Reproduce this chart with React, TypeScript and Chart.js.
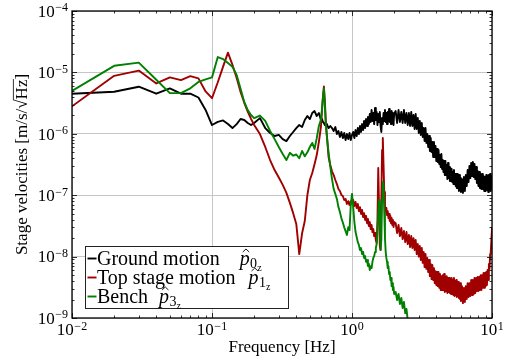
import React, { useEffect, useRef } from "react";
import { Chart, registerables } from "chart.js";

Chart.register(...registerables);

// ---------------- data ----------------
const frequencies = [
  0.01, 0.02, 0.03, 0.04, 0.05, 0.06, 0.07, 0.08, 0.09, 0.1,
  0.11, 0.12, 0.13, 0.14, 0.15, 0.16, 0.17, 0.18, 0.19, 0.2,
  0.22, 0.24, 0.26, 0.28, 0.3, 0.32, 0.34, 0.36, 0.38, 0.4,
  0.42, 0.44, 0.46, 0.48, 0.5, 0.52, 0.54, 0.56,
  0.58, 0.6, 0.61, 0.62, 0.63, 0.64, 0.65, 0.66, 0.68, 0.7,
  0.72, 0.74, 0.76, 0.78, 0.8, 0.82, 0.84, 0.86, 0.88, 0.9, 0.92, 0.94, 0.96, 0.98, 1.0,
  1.02, 1.04, 1.06, 1.08, 1.1, 1.12, 1.14, 1.16, 1.18, 1.2,
  1.22, 1.24, 1.26, 1.28, 1.3, 1.32, 1.34, 1.36, 1.38, 1.4,
  1.42, 1.44, 1.46, 1.48, 1.5, 1.52, 1.54, 1.56, 1.58, 1.6,
  1.62, 1.64, 1.66, 1.68, 1.7, 1.72, 1.74, 1.76, 1.78, 1.8,
  1.82, 1.84, 1.86, 1.88, 1.9, 1.92, 1.94, 1.96, 1.98, 2.0,
  2.05, 2.1, 2.15, 2.2, 2.25, 2.3, 2.35, 2.4, 2.45, 2.5,
  2.55, 2.6, 2.65, 2.7, 2.75, 2.8, 2.85, 2.9, 2.95, 3.0,
  3.05, 3.1, 3.15, 3.2, 3.25, 3.3, 3.35, 3.4, 3.45, 3.5,
  3.55, 3.6, 3.65, 3.7, 3.75, 3.8, 3.85, 3.9, 3.95, 4.0,
  4.05, 4.1, 4.15, 4.2, 4.25, 4.3, 4.35, 4.4, 4.45, 4.5,
  4.55, 4.6, 4.65, 4.7, 4.75, 4.8, 4.85, 4.9, 4.95, 5.0,
  5.05, 5.1, 5.15, 5.2, 5.25, 5.3, 5.35, 5.4, 5.45, 5.5,
  5.55, 5.6, 5.65, 5.7, 5.75, 5.8, 5.85, 5.9, 5.95, 6.0,
  6.1, 6.2, 6.3, 6.4, 6.5, 6.6, 6.7, 6.8, 6.9, 7.0,
  7.1, 7.2, 7.3, 7.4, 7.5, 7.6, 7.7, 7.8, 7.9, 8.0,
  8.1, 8.2, 8.3, 8.4, 8.5, 8.6, 8.7, 8.8, 8.9, 9.0,
  9.1, 9.2, 9.3, 9.4, 9.5, 9.6, 9.7, 9.8, 9.9, 10.0,
];

const groundMotion = [
  4.5e-6, 4.85e-6, 5.85e-6, 4.5e-6, 5.5e-6, 4.5e-6, 4.5e-6, 3.9e-6, 2.45e-6, 1.39e-6,
  1.56e-6, 1.65e-6, 1.44e-6, 1.24e-6, 1.44e-6, 1.74e-6, 1.68e-6, 1.5e-6, 1.39e-6, 1.5e-6,
  1.8e-6, 1.24e-6, 1.03e-6, 9.2e-7, 9.6e-7, 8.2e-7, 7.6e-7, 9.2e-7, 1.07e-6, 1.24e-6,
  1.39e-6, 1.29e-6, 1.68e-6, 1.95e-6, 1.74e-6, 2.18e-6, 2.35e-6, 1.95e-6,
  2.18e-6, 1.68e-6, 1.75e-6, 1.56e-6, 1.5e-6, 1.39e-6, 1.5e-6, 1.45e-6, 1.24e-6, 1.34e-6,
  1.24e-6, 1.11e-6, 1.29e-6, 9.9e-7, 1.11e-6, 8.9e-7, 1.07e-6, 8.5e-7, 1.03e-6, 7.9e-7, 9.9e-7, 8.2e-7, 1.03e-6, 7.9e-7, 9.6e-7,
  1.07e-6, 8.5e-7, 1.15e-6, 9.2e-7, 1.24e-6, 9.9e-7, 1.34e-6, 1.07e-6, 1.44e-6, 1.15e-6,
  1.62e-6, 1.24e-6, 1.74e-6, 1.34e-6, 1.88e-6, 1.44e-6, 2.1e-6, 1.56e-6, 2.44e-6, 1.62e-6,
  2.18e-6, 1.44e-6, 2.63e-6, 1.68e-6, 2.27e-6, 1.39e-6, 2.1e-6, 1.56e-6, 2.27e-6, 1.34e-6,
  1.07e-6, 1.81e-6, 1.44e-6, 2.18e-6, 1.62e-6, 2.44e-6, 1.56e-6, 2.18e-6, 1.44e-6, 2.27e-6,
  1.62e-6, 2.54e-6, 1.56e-6, 2.1e-6, 1.44e-6, 2.35e-6, 1.68e-6, 2.18e-6, 1.39e-6, 2.1e-6,
  2.35e-6, 1.5e-6, 2.44e-6, 1.56e-6, 2.27e-6, 1.5e-6, 2.44e-6, 1.5e-6, 2.18e-6, 1.39e-6,
  2.18e-6, 1.34e-6, 2.27e-6, 1.34e-6, 2.02e-6, 1.2e-6, 2.1e-6, 1.2e-6, 1.81e-6, 1.03e-6,
  1.62e-6, 9.56e-7, 1.5e-6, 8.87e-7, 1.24e-6, 7.63e-7, 1.24e-6, 7.08e-7, 9.93e-7, 6.1e-7,
  9.21e-7, 5.25e-7, 8.54e-7, 5.06e-7, 7.35e-7, 4.19e-7, 7.35e-7, 4.19e-7, 6.33e-7, 3.61e-7,
  5.66e-7, 3.47e-7, 5.45e-7, 3.22e-7, 4.52e-7, 2.88e-7, 4.69e-7, 2.67e-7, 3.74e-7, 2.39e-7,
  3.61e-7, 2.13e-7, 3.61e-7, 2.13e-7, 3.1e-7, 1.83e-7, 3.35e-7, 1.9e-7, 2.88e-7, 1.7e-7,
  2.77e-7, 1.7e-7, 2.67e-7, 1.64e-7, 2.39e-7, 1.52e-7, 2.57e-7, 1.52e-7, 2.21e-7, 1.41e-7,
  2.21e-7, 1.31e-7, 2.21e-7, 1.31e-7, 1.98e-7, 1.17e-7, 2.13e-7, 1.22e-7, 1.9e-7, 1.13e-7,
  1.83e-7, 1.09e-7, 1.98e-7, 1.17e-7, 2.13e-7, 1.41e-7, 2.57e-7, 1.64e-7, 2.99e-7, 1.9e-7,
  3.35e-7, 2.05e-7, 3.47e-7, 1.98e-7, 3.22e-7, 1.83e-7, 2.88e-7, 1.58e-7, 2.48e-7, 1.41e-7,
  2.39e-7, 1.31e-7, 2.21e-7, 1.26e-7, 2.21e-7, 1.26e-7, 2.05e-7, 1.17e-7, 1.98e-7, 1.17e-7,
  2.13e-7, 1.22e-7, 2.05e-7, 1.13e-7, 2.13e-7, 1.22e-7, 2.21e-7, 1.17e-7, 2.05e-7, 1.26e-7,
];

const topStageMotion = [
  2.8e-6, 8.8e-6, 1.07e-5, 6.6e-6, 8.3e-6, 7.5e-6, 8.7e-6, 8.0e-6, 4.9e-6, 3.8e-6,
  6.9e-6, 1.24e-5, 2.1e-5, 1.33e-5, 8.1e-6, 4.8e-6, 3.2e-6, 2.3e-6, 1.75e-6, 1.39e-6,
  9.9e-7, 6.1e-7, 3.74e-7, 2.57e-7, 1.94e-7, 1.47e-7, 1.09e-7, 7.5e-8, 5.1e-8, 3.4e-8,
  1.1e-8, 2.4e-8, 3.8e-8, 1.0e-7, 1.77e-7, 2.3e-7, 3.2e-7, 4.5e-7,
  7.4e-7, 1.3e-6, 2.3e-6, 4.0e-6, 5.9e-6, 3.4e-6, 1.6e-6, 1.0e-6, 4.2e-7, 3.1e-7,
  2.45e-7, 2.13e-7, 1.77e-7, 1.52e-7, 1.26e-7, 1.17e-7, 1.01e-7, 9.7e-8, 8.35e-8, 8.7e-8, 7.2e-8, 8.0e-8, 6.9e-8, 8.0e-8, 7.2e-8,
  8.35e-8, 6.65e-8, 7.75e-8, 6.2e-8, 7.2e-8, 5.5e-8, 6.4e-8, 4.95e-8, 5.75e-8, 4.4e-8,
  5.1e-8, 3.95e-8, 4.6e-8, 3.5e-8, 4.1e-8, 3.15e-8, 3.65e-8, 2.81e-8, 3.27e-8, 2.51e-8,
  2.81e-8, 2.16e-8, 2.42e-8, 1.86e-8, 1.66e-8, 3.95e-8, 2.77e-7, 6.9e-8, 1.49e-8, 1.28e-8,
  8.35e-8, 5.45e-7, 8.54e-7, 3.1e-7, 1.13e-7, 6.9e-8, 5.3e-8, 6.2e-8, 4.75e-8, 5.5e-8,
  4.25e-8, 4.95e-8, 3.8e-8, 4.6e-8, 3.5e-8, 4.25e-8, 3.27e-8, 3.95e-8, 3.03e-8, 3.65e-8,
  3.5e-8, 2.42e-8, 3.27e-8, 2.16e-8, 2.92e-8, 1.93e-8, 2.61e-8, 1.72e-8, 2.51e-8, 1.6e-8,
  2.25e-8, 1.43e-8, 2.16e-8, 1.38e-8, 2.0e-8, 1.28e-8, 1.86e-8, 1.1e-8, 1.6e-8, 1.0e-8,
  1.49e-8, 8.8e-9, 1.38e-8, 7.9e-9, 1.19e-8, 6.75e-9, 1.1e-8, 6.3e-9, 9.5e-9, 5.6e-9,
  8.8e-9, 4.8e-9, 7.6e-9, 4.3e-9, 7.3e-9, 4.16e-9, 6.5e-9, 3.7e-9, 5.8e-9, 3.45e-9,
  5.6e-9, 3.3e-9, 5.6e-9, 3.1e-9, 5.2e-9, 2.86e-9, 4.8e-9, 2.86e-9, 5.0e-9, 2.86e-9,
  5.2e-9, 2.65e-9, 4.65e-9, 2.75e-9, 4.8e-9, 2.55e-9, 4.5e-9, 2.65e-9, 4.5e-9, 2.55e-9,
  4.16e-9, 2.46e-9, 4.5e-9, 2.46e-9, 4.16e-9, 2.37e-9, 4.5e-9, 2.28e-9, 4.0e-9, 2.37e-9,
  4.16e-9, 2.2e-9, 3.85e-9, 2.28e-9, 3.85e-9, 2.12e-9, 3.6e-9, 2.04e-9, 3.7e-9, 1.89e-9,
  3.3e-9, 1.75e-9, 3.1e-9, 1.82e-9, 3.3e-9, 2.04e-9, 3.7e-9, 2.2e-9, 3.7e-9, 2.28e-9,
  4.16e-9, 2.37e-9, 4.16e-9, 2.46e-9, 4.5e-9, 2.55e-9, 4.5e-9, 2.75e-9, 4.65e-9, 2.75e-9,
  4.65e-9, 2.86e-9, 5.0e-9, 2.86e-9, 5.0e-9, 3.1e-9, 5.4e-9, 3.1e-9, 5.4e-9, 3.3e-9,
  5.6e-9, 3.45e-9, 6.05e-9, 4.16e-9, 7.6e-9, 6.3e-9, 1.1e-8, 1.19e-8, 1.86e-8, 2.92e-8,
];

const benchMotion = [
  5.0e-6, 1.28e-5, 1.44e-5, 7.6e-6, 4.6e-6, 4.6e-6, 5.5e-6, 7.0e-6, 7.7e-6, 8.3e-6,
  1.78e-5, 1.65e-5, 1.42e-5, 1.23e-5, 9.1e-6, 5.4e-6, 3.3e-6, 2.44e-6, 2.02e-6, 1.8e-6,
  1.98e-6, 1.62e-6, 1.11e-6, 8.2e-7, 6.1e-7, 4.7e-7, 3.74e-7, 4.9e-7, 4.4e-7, 4.6e-7,
  4.0e-7, 5.25e-7, 4.3e-7, 5.0e-7, 6.1e-7, 7.1e-7, 5.66e-7, 8.5e-7,
  1.34e-6, 1.7e-6, 2.5e-6, 3.9e-6, 5.5e-6, 2.9e-6, 1.4e-6, 9.5e-7, 5.0e-7, 2.9e-7,
  1.83e-7, 1.26e-7, 1.05e-7, 8.7e-8, 6.4e-8, 5.3e-8, 4.2e-8, 3.6e-8, 3.0e-8, 2.6e-8, 2.25e-8, 3.0e-8, 2.7e-8, 6.9e-8, 1.05e-7,
  6.4e-8, 3.65e-8, 2.51e-8, 2.08e-8, 1.72e-8, 1.55e-8, 1.28e-8, 1.38e-8, 1.1e-8, 1.19e-8,
  9.5e-9, 1.02e-8, 8.2e-9, 8.8e-9, 7.0e-9, 7.6e-9, 6.05e-9, 7.0e-9, 6.5e-9, 8.2e-9,
  9.5e-9, 1.02e-8, 1.19e-8, 1.38e-8, 1.6e-8, 2.51e-8, 5.3e-8, 8.35e-8, 4.75e-8, 1.28e-8,
  1.86e-8, 8.35e-8, 1.64e-7, 1.47e-7, 5.3e-8, 2.0e-8, 1.19e-8, 9.5e-9, 8.2e-9, 6.5e-9,
  7.0e-9, 5.2e-9, 5.6e-9, 4.16e-9, 4.5e-9, 3.3e-9, 3.7e-9, 2.86e-9, 3.2e-9, 2.46e-9,
  2.65e-9, 1.96e-9, 2.46e-9, 1.69e-9, 2.12e-9, 1.45e-9, 1.82e-9, 1.2e-9, 1.4e-9, 9.3e-10,
];

const seriesNames = ["Ground motion", "Top stage motion", "Bench"];
const seriesSubscripts = ["0", "1", "3"];
const seriesColors = ["#000000", "#a00000", "#008000"];

const xTickValues = [0.01, 0.1, 1, 10];
const xTickLabels = [["10", "\u22122"], ["10", "\u22121"], ["10", "0"], ["10", "1"]];
const yTickValues = [1e-9, 1e-8, 1e-7, 1e-6, 1e-5, 1e-4];
const yTickLabels = [
  ["10", "\u22129"], ["10", "\u22128"], ["10", "\u22127"],
  ["10", "\u22126"], ["10", "\u22125"], ["10", "\u22124"],
];
const xTitle = "Frequency [Hz]";
const yTitleParts = ["Stage velocities [m/s/\u221A", "Hz", "]"];

// ---------------- styling ----------------
const SERIF = "'Liberation Serif', 'Times New Roman', serif";
const legendGaps = [20, 13, 11];

const decorPlugin = {
  id: "decor",
  afterDatasetsDraw(chart: any) {
    const { ctx, chartArea: a } = chart;
    const xs = chart.scales.x;
    const ys = chart.scales.y;
    ctx.save();

    // minor / major inward ticks
    ctx.strokeStyle = "#000";
    ctx.lineWidth = 0.8;
    ctx.beginPath();
    for (let i = 0; i < xTickValues.length; i++) {
      for (let k = 1; k <= 9; k++) {
        if (i === xTickValues.length - 1 && k > 1) break;
        const px = Math.round(xs.getPixelForValue(k * xTickValues[i])) + 0.5;
        const len = k === 1 ? 5 : 2.5;
        ctx.moveTo(px, a.bottom);
        ctx.lineTo(px, a.bottom - len);
        ctx.moveTo(px, a.top);
        ctx.lineTo(px, a.top + len);
      }
    }
    for (let i = 0; i < yTickValues.length; i++) {
      for (let k = 1; k <= 9; k++) {
        if (i === yTickValues.length - 1 && k > 1) break;
        const py = Math.round(ys.getPixelForValue(k * yTickValues[i])) + 0.5;
        const len = k === 1 ? 5 : 2.5;
        ctx.moveTo(a.left, py);
        ctx.lineTo(a.left + len, py);
        ctx.moveTo(a.right, py);
        ctx.lineTo(a.right - len, py);
      }
    }
    ctx.stroke();

    // frame
    ctx.lineWidth = 1.3;
    ctx.strokeRect(a.left, a.top, a.right - a.left, a.bottom - a.top);

    // tick labels
    ctx.fillStyle = "#000";
    ctx.textBaseline = "alphabetic";
    ctx.textAlign = "left";
    const mainFont = `17px ${SERIF}`;
    const supFont = `12px ${SERIF}`;
    xTickValues.forEach((v, i) => {
      const [base, exp] = xTickLabels[i];
      ctx.font = mainFont;
      const bw = ctx.measureText(base).width;
      ctx.font = supFont;
      const ew = ctx.measureText(exp).width;
      const total = bw + 0.5 + ew;
      const x0 = xs.getPixelForValue(v) - total / 2;
      ctx.font = mainFont;
      ctx.fillText(base, x0, a.bottom + 17);
      ctx.font = supFont;
      ctx.fillText(exp, x0 + bw + 0.5, a.bottom + 11.5);
    });
    yTickValues.forEach((v, i) => {
      const [base, exp] = yTickLabels[i];
      ctx.font = mainFont;
      const bw = ctx.measureText(base).width;
      ctx.font = supFont;
      const ew = ctx.measureText(exp).width;
      const py = ys.getPixelForValue(v);
      const ex = a.left - 4 - ew;
      const bx = ex - 0.5 - bw;
      ctx.font = mainFont;
      ctx.fillText(base, bx, py + 5.7);
      ctx.font = supFont;
      ctx.fillText(exp, ex, py + 0.3);
    });

    // axis titles
    ctx.font = `17px ${SERIF}`;
    ctx.textAlign = "center";
    ctx.fillText(xTitle, (a.left + a.right) / 2, a.bottom + 34);

    ctx.save();
    ctx.translate(27, (a.top + a.bottom) / 2);
    ctx.rotate(-Math.PI / 2);
    ctx.textAlign = "left";
    ctx.font = `17px ${SERIF}`;
    const [t1, t2, t3] = yTitleParts;
    const w1 = ctx.measureText(t1).width;
    const w2 = ctx.measureText(t2).width;
    const w3 = ctx.measureText(t3).width;
    const rootTop = ctx.measureText("\u221A").actualBoundingBoxAscent;
    let tx = -(w1 + w2 + w3) / 2;
    ctx.fillText(t1, tx, 0);
    tx += w1;
    ctx.fillText(t2, tx, 0);
    ctx.beginPath();
    ctx.lineWidth = 0.8;
    ctx.moveTo(tx - 0.8, -rootTop + 0.4);
    ctx.lineTo(tx + w2 + 0.5, -rootTop + 0.4);
    ctx.stroke();
    tx += w2;
    ctx.fillText(t3, tx, 0);
    ctx.restore();

    // legend
    const bx = a.left + 13;
    const by = a.bottom - 72;
    const bw = 203;
    const bh = 62;
    ctx.fillStyle = "#fff";
    ctx.fillRect(bx, by, bw, bh);
    ctx.strokeStyle = "#222";
    ctx.lineWidth = 1;
    ctx.strokeRect(bx + 0.5, by + 0.5, bw, bh);
    ctx.textAlign = "left";
    seriesNames.forEach((name, i) => {
      const base = by + 18.5 + i * 19;
      ctx.strokeStyle = seriesColors[i];
      ctx.lineWidth = 1.9;
      ctx.beginPath();
      ctx.moveTo(bx + 2.5, base - 6);
      ctx.lineTo(bx + 11.5, base - 6);
      ctx.stroke();
      ctx.fillStyle = "#000";
      ctx.font = `20px ${SERIF}`;
      const tx0 = bx + 12;
      ctx.fillText(name, tx0, base);
      const pw0 = ctx.measureText(name).width;
      const px = tx0 + pw0 + legendGaps[i];
      ctx.font = `italic 20px ${SERIF}`;
      ctx.fillText("p", px, base);
      const pw = ctx.measureText("p").width;
      // hat accent
      ctx.strokeStyle = "#000";
      ctx.lineWidth = 0.9;
      ctx.beginPath();
      const hc = px + pw * 0.62;
      ctx.moveTo(hc - 3.2, base - 12.5);
      ctx.lineTo(hc, base - 15.5);
      ctx.lineTo(hc + 3.2, base - 12.5);
      ctx.stroke();
      ctx.font = `14px ${SERIF}`;
      const sx = px + pw + 0.3;
      ctx.fillText(seriesSubscripts[i], sx, base + 3.5);
      const sw = ctx.measureText(seriesSubscripts[i]).width;
      ctx.font = `10px ${SERIF}`;
      ctx.fillText("z", sx + sw + 0.2, base + 6.5);
    });

    ctx.restore();
  },
};

const toPoints = (vals: number[]) => vals.map((v, i) => ({ x: frequencies[i], y: v }));

export default function App() {
  const ref = useRef<HTMLCanvasElement | null>(null);

  useEffect(() => {
    if (!ref.current) return;
    const seriesValues = [groundMotion, topStageMotion, benchMotion];
    const chart = new Chart(ref.current, {
      type: "line",
      data: {
        datasets: seriesValues.map((vals, i) => ({
          label: seriesNames[i],
          data: toPoints(vals),
          borderColor: seriesColors[i],
          backgroundColor: seriesColors[i],
          borderWidth: 1.9,
          pointRadius: 0,
          tension: 0,
          fill: false,
          borderJoinStyle: "round" as const,
          borderCapStyle: "round" as const,
          order: 3 - i,
        })),
      },
      options: {
        responsive: false,
        animation: false,
        devicePixelRatio: 1,
        layout: { padding: { left: 0, right: 18, top: 11, bottom: 0 } },
        plugins: { legend: { display: false }, tooltip: { enabled: false } },
        scales: {
          x: {
            type: "logarithmic",
            min: 0.01,
            max: 10,
            ticks: { display: false },
            grid: { color: "#c6c6c6", lineWidth: 1, drawTicks: false },
            border: { display: false },
            afterBuildTicks: (s: any) => {
              s.ticks = xTickValues.map((v) => ({ value: v }));
            },
            afterFit: (s: any) => {
              s.height = 46;
            },
          },
          y: {
            type: "logarithmic",
            min: 1e-9,
            max: 1e-4,
            ticks: { display: false },
            grid: { color: "#c6c6c6", lineWidth: 1, drawTicks: false },
            border: { display: false },
            afterBuildTicks: (s: any) => {
              s.ticks = yTickValues.map((v) => ({ value: v }));
            },
            afterFit: (s: any) => {
              s.width = 72;
            },
          },
        },
      },
      plugins: [decorPlugin],
    } as any);
    return () => chart.destroy();
  }, []);

  return (
    <div style={{ position: "fixed", left: 0, top: 0, width: 510, height: 364, background: "#fff" }}>
      <canvas ref={ref} width={510} height={364} style={{ display: "block", width: 510, height: 364 }} />
    </div>
  );
}
